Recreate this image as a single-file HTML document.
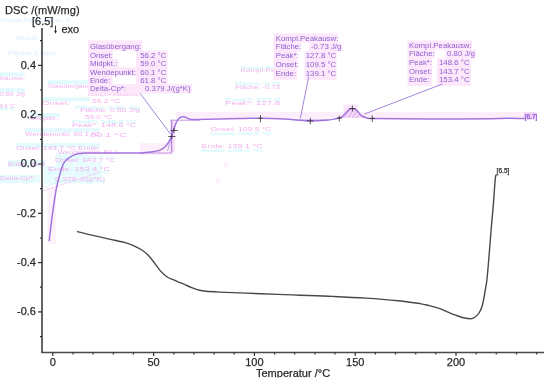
<!DOCTYPE html>
<html><head><meta charset="utf-8">
<style>
html,body{margin:0;padding:0;background:#fff;}
body{width:550px;height:383px;overflow:hidden;}
svg{display:block;will-change:transform;}
text{font-family:"Liberation Sans",sans-serif;}
.ax{font-size:11px;fill:#2a2a2a;stroke:#2a2a2a;stroke-width:0.25px;}
.an{font-size:8px;fill:#8f60d2;}
</style></head>
<body>
<svg width="550" height="383" viewBox="0 0 550 383">
<!-- ghost -->
<g fill="#e8fbfd">
<rect x="25" y="128" width="75" height="4"/>
<rect x="16" y="143" width="84" height="4.5"/>
<rect x="8" y="160" width="37" height="7"/>
<rect x="0" y="175" width="40" height="8"/>
<rect x="56" y="153" width="32" height="30"/>
<rect x="44" y="166" width="14" height="18"/>
<rect x="88" y="162" width="14" height="20"/>
<rect x="30" y="113" width="30" height="4"/>
<rect x="42" y="97" width="48" height="3.5"/>
<rect x="0" y="72" width="25" height="4"/>
<rect x="0" y="88" width="25" height="4"/>
<rect x="48" y="80" width="44" height="3.5"/>
</g>
<g font-size="8" style="font-family:'Liberation Sans',sans-serif">
<text transform="translate(0.0 75.6) scale(1 0.55)" textLength="25.0" lengthAdjust="spacingAndGlyphs" fill="#dff9fd" stroke="#dff9fd" stroke-width="1.0">kausw.</text>
<text transform="translate(0.0 79.9) scale(1 0.6)" textLength="25.0" lengthAdjust="spacingAndGlyphs" fill="#f3b2ee">kausw.</text>
<text transform="translate(48.0 83.6) scale(1 0.55)" textLength="44.0" lengthAdjust="spacingAndGlyphs" fill="#dff9fd" stroke="#dff9fd" stroke-width="1.0">Glasübergang:</text>
<text transform="translate(48.0 87.9) scale(1 0.6)" textLength="44.0" lengthAdjust="spacingAndGlyphs" fill="#f3b2ee">Glasübergang:</text>
<text transform="translate(0.0 91.6) scale(1 0.55)" textLength="25.0" lengthAdjust="spacingAndGlyphs" fill="#dff9fd" stroke="#dff9fd" stroke-width="1.0">0.80 J/g</text>
<text transform="translate(0.0 95.7) scale(1 0.6)" textLength="25.0" lengthAdjust="spacingAndGlyphs" fill="#f3b2ee">0.80 J/g</text>
<text transform="translate(88.0 96.1) scale(1 0.6)" textLength="52.0" lengthAdjust="spacingAndGlyphs" fill="#f3b2ee">Kompl.Peakausw:</text>
<text transform="translate(42.0 100.8) scale(1 0.55)" textLength="48.0" lengthAdjust="spacingAndGlyphs" fill="#dff9fd" stroke="#dff9fd" stroke-width="1.0">Onset:       </text>
<text transform="translate(42.0 104.7) scale(1 0.6)" textLength="28.0" lengthAdjust="spacingAndGlyphs" fill="#f3b2ee">Onset:</text>
<text transform="translate(92.0 103.3) scale(1 0.6)" textLength="28.0" lengthAdjust="spacingAndGlyphs" fill="#f3b2ee">56.2 °C</text>
<text transform="translate(0.0 109.6) scale(1 0.55)" textLength="15.0" lengthAdjust="spacingAndGlyphs" fill="#dff9fd" stroke="#dff9fd" stroke-width="1.0">8.6 °C</text>
<text transform="translate(0.0 108.1) scale(1 0.6)" textLength="15.0" lengthAdjust="spacingAndGlyphs" fill="#f3b2ee">8.6 °C</text>
<text transform="translate(75.0 108.6) scale(1 0.55)" textLength="65.0" lengthAdjust="spacingAndGlyphs" fill="#dff9fd" stroke="#dff9fd" stroke-width="1.0">Fläche: 0.80 J/g</text>
<text transform="translate(80.0 111.9) scale(1 0.6)" textLength="60.0" lengthAdjust="spacingAndGlyphs" fill="#f3b2ee">Fläche:    0.80 J/g</text>
<text transform="translate(30.0 116.6) scale(1 0.55)" textLength="30.0" lengthAdjust="spacingAndGlyphs" fill="#dff9fd" stroke="#dff9fd" stroke-width="1.0">Midpkt.:</text>
<text transform="translate(30.0 119.9) scale(1 0.6)" textLength="30.0" lengthAdjust="spacingAndGlyphs" fill="#f3b2ee">Midpkt.:</text>
<text transform="translate(85.0 118.7) scale(1 0.6)" textLength="27.0" lengthAdjust="spacingAndGlyphs" fill="#f3b2ee">59.0 °C</text>
<text transform="translate(72.0 123.1) scale(1 0.55)" textLength="64.0" lengthAdjust="spacingAndGlyphs" fill="#dff9fd" stroke="#dff9fd" stroke-width="1.0">Peak*:    148.6 °C</text>
<text transform="translate(72.0 126.9) scale(1 0.6)" textLength="64.0" lengthAdjust="spacingAndGlyphs" fill="#f3b2ee">Peak*:    148.6 °C</text>
<text transform="translate(25.0 131.8) scale(1 0.55)" textLength="75.0" lengthAdjust="spacingAndGlyphs" fill="#dff9fd" stroke="#dff9fd" stroke-width="1.0">Wendepunkt:   60.1 °C</text>
<text transform="translate(25.0 136.3) scale(1 0.6)" textLength="75.0" lengthAdjust="spacingAndGlyphs" fill="#f3b2ee">Wendepunkt:   60.1 °C</text>
<text transform="translate(90.0 136.9) scale(1 0.6)" textLength="37.0" lengthAdjust="spacingAndGlyphs" fill="#f3b2ee">60.1 °C</text>
<text transform="translate(16.0 146.6) scale(1 0.55)" textLength="84.0" lengthAdjust="spacingAndGlyphs" fill="#dff9fd" stroke="#dff9fd" stroke-width="1.0">Onset:    143.7 °C   Ende:</text>
<text transform="translate(16.0 149.9) scale(1 0.6)" textLength="84.0" lengthAdjust="spacingAndGlyphs" fill="#f3b2ee">Onset:    143.7 °C   Ende:</text>
<text transform="translate(58.0 153.7) scale(1 0.6)" textLength="60.0" lengthAdjust="spacingAndGlyphs" fill="#f3b2ee">Wendepunkt: 60.1</text>
<text transform="translate(55.0 158.6) scale(1 0.55)" textLength="60.0" lengthAdjust="spacingAndGlyphs" fill="#dff9fd" stroke="#dff9fd" stroke-width="1.0">Onset:  143.7 °C</text>
<text transform="translate(55.0 161.7) scale(1 0.6)" textLength="60.0" lengthAdjust="spacingAndGlyphs" fill="#f3b2ee">Onset:  143.7 °C</text>
<text transform="translate(8.0 164.1) scale(1 0.55)" textLength="37.0" lengthAdjust="spacingAndGlyphs" fill="#dff9fd" stroke="#dff9fd" stroke-width="1.0">Ende: 61.8</text>
<text transform="translate(8.0 166.2) scale(1 0.6)" textLength="37.0" lengthAdjust="spacingAndGlyphs" fill="#f3b2ee">Ende: 61.8</text>
<text transform="translate(48.0 174.1) scale(1 0.55)" textLength="62.0" lengthAdjust="spacingAndGlyphs" fill="#dff9fd" stroke="#dff9fd" stroke-width="1.0">Ende:   153.4 °C</text>
<text transform="translate(48.0 170.5) scale(1 0.6)" textLength="62.0" lengthAdjust="spacingAndGlyphs" fill="#f3b2ee">Ende:   153.4 °C</text>
<text transform="translate(0.0 182.8) scale(1 0.55)" textLength="35.0" lengthAdjust="spacingAndGlyphs" fill="#dff9fd" stroke="#dff9fd" stroke-width="1.0">Delta-Cp*:</text>
<text transform="translate(0.0 179.5) scale(1 0.6)" textLength="35.0" lengthAdjust="spacingAndGlyphs" fill="#f3b2ee">Delta-Cp*:</text>
<text transform="translate(55.0 182.8) scale(1 0.55)" textLength="50.0" lengthAdjust="spacingAndGlyphs" fill="#dff9fd" stroke="#dff9fd" stroke-width="1.0">0.379 J/(g*K)</text>
<text transform="translate(55.0 180.5) scale(1 0.6)" textLength="50.0" lengthAdjust="spacingAndGlyphs" fill="#f3b2ee">0.379 J/(g*K)</text>
<text transform="translate(240.5 68.6) scale(1 0.55)" textLength="39.5" lengthAdjust="spacingAndGlyphs" fill="#dff9fd" stroke="#dff9fd" stroke-width="1.0">Kompl.Pea</text>
<text transform="translate(240.5 72.3) scale(1 0.6)" textLength="39.5" lengthAdjust="spacingAndGlyphs" fill="#f3b2ee">Kompl.Pea</text>
<text transform="translate(235.3 85.1) scale(1 0.55)" textLength="44.7" lengthAdjust="spacingAndGlyphs" fill="#dff9fd" stroke="#dff9fd" stroke-width="1.0">Fläche:  -0.73</text>
<text transform="translate(235.3 88.5) scale(1 0.6)" textLength="44.7" lengthAdjust="spacingAndGlyphs" fill="#f3b2ee">Fläche:  -0.73</text>
<text transform="translate(225.0 101.4) scale(1 0.55)" textLength="55.0" lengthAdjust="spacingAndGlyphs" fill="#dff9fd" stroke="#dff9fd" stroke-width="1.0">Peak*:   127.8</text>
<text transform="translate(225.0 104.7) scale(1 0.6)" textLength="55.0" lengthAdjust="spacingAndGlyphs" fill="#f3b2ee">Peak*:   127.8</text>
<text transform="translate(219.0 115.9) scale(1 0.6)" textLength="71.0" lengthAdjust="spacingAndGlyphs" fill="#f3b2ee">Ende:   139.1 °C</text>
<text transform="translate(210.4 135.1) scale(1 0.55)" textLength="61.1" lengthAdjust="spacingAndGlyphs" fill="#dff9fd" stroke="#dff9fd" stroke-width="1.0">Onset:   109.5 °C</text>
<text transform="translate(210.4 130.9) scale(1 0.6)" textLength="61.1" lengthAdjust="spacingAndGlyphs" fill="#f3b2ee">Onset:   109.5 °C</text>
<text transform="translate(201.6 151.6) scale(1 0.55)" textLength="61.1" lengthAdjust="spacingAndGlyphs" fill="#dff9fd" stroke="#dff9fd" stroke-width="1.0">Ende:   139.1 °C</text>
<text transform="translate(201.6 147.7) scale(1 0.6)" textLength="61.1" lengthAdjust="spacingAndGlyphs" fill="#f3b2ee">Ende:   139.1 °C</text>
<text x="224" y="167" fill="#f8d2f5">//</text>
<text x="216" y="183" fill="#f8d2f5">//</text>
<text transform="translate(0.0 22.0) scale(1 0.7)" textLength="71.0" lengthAdjust="spacingAndGlyphs" fill="#e8f3fe" stroke="#e8f3fe" stroke-width="0.4">Kompl.Peakausw.: K</text>
<text transform="translate(16.0 40.0) scale(1 0.7)" textLength="21.0" lengthAdjust="spacingAndGlyphs" fill="#e8f3fe" stroke="#e8f3fe" stroke-width="0.4">Kb.L2l</text>
<text transform="translate(8.0 55.0) scale(1 0.7)" textLength="47.0" lengthAdjust="spacingAndGlyphs" fill="#e8f3fe" stroke="#e8f3fe" stroke-width="0.4">Fläche  1.ston</text>
</g>
<rect x="47.5" y="188" width="8.5" height="56" fill="#fdf1fc"/>
<path d="M42.5 191L100 172" stroke="#f7c6f2" stroke-width="0.8"/>
<path d="M45 187L64 180" stroke="#cdf2fa" stroke-width="0.8"/>
<!-- annotation backgrounds -->
<g fill="#fce8fa">
 <rect x="88" y="40.3" width="54.4" height="10.2"/>
 <rect x="88" y="50.5" width="24.5" height="8.4"/>
 <rect x="88" y="58.9" width="30.5" height="8.4"/>
 <rect x="88" y="67.3" width="48" height="8.4"/>
 <rect x="88" y="75.7" width="24.5" height="8.4"/>
 <rect x="136" y="50.5" width="31.5" height="33.6"/>
 <rect x="88" y="84.1" width="104" height="9.5"/>
</g>
<!-- axes -->
<g stroke="#4a4a4a" stroke-width="1.7" fill="none">
 <path d="M42 28 V352.5 H544"/>
</g>
<g stroke="#333" stroke-width="1.2">
 <path d="M38 65.4H42 M38 114.7H42 M38 164H42 M38 213.3H42 M38 262.6H42 M38 311.9H42"/>
 <path d="M40 40.7H42 M40 90H42 M40 139.3H42 M40 188.6H42 M40 238H42 M40 287.2H42 M40 336.6H42"/>
 <path d="M52.8 352.5V356 M153.6 352.5V356 M254.4 352.5V356 M355.2 352.5V356 M456 352.5V356"/>
 <path d="M73 352.5V354.5 M93.1 352.5V354.5 M113.3 352.5V354.5 M133.4 352.5V354.5 M173.8 352.5V354.5 M193.9 352.5V354.5 M214.1 352.5V354.5 M234.2 352.5V354.5 M274.6 352.5V354.5 M294.7 352.5V354.5 M314.9 352.5V354.5 M335 352.5V354.5 M375.4 352.5V354.5 M395.5 352.5V354.5 M415.7 352.5V354.5 M435.8 352.5V354.5 M476.2 352.5V354.5 M496.3 352.5V354.5 M516.5 352.5V354.5 M536.6 352.5V354.5"/>
</g>
<!-- axis labels -->
<g class="ax">
 <text x="5" y="13.9">DSC /(mW/mg)</text>
 <text x="32" y="24.6">[6.5]</text>
 <text x="61.5" y="32.5">exo</text>
 <g text-anchor="end">
  <text x="36" y="68.8">0.4</text>
  <text x="36" y="118.1">0.2</text>
  <text x="36" y="167.4">0.0</text>
  <text x="36" y="216.7">-0.2</text>
  <text x="36" y="266">-0.4</text>
  <text x="36" y="315.3">-0.6</text>
 </g>
 <g text-anchor="middle">
  <text x="52.8" y="365.6">0</text>
  <text x="153.6" y="365.6">50</text>
  <text x="254.4" y="365.6">100</text>
  <text x="355.2" y="365.6">150</text>
  <text x="456" y="365.6">200</text>
 </g>
 <text x="256" y="376.9">Temperatur /°C</text>
</g>
<!-- exo arrow -->
<path d="M55.5 25.5V31.5" stroke="#2a2a2a" stroke-width="0.9"/>
<path d="M54.1 30.8H56.9L55.5 33.8Z" fill="#2a2a2a"/>
<!-- black curve -->
<path fill="none" stroke="#484848" stroke-width="1.4" d="M77.1 231.5 C79.5 232.1 86.6 233.9 91.8 235.1 C97.0 236.3 103.7 237.9 108.2 238.9 C112.7 239.9 116.2 240.6 119.0 241.2 C121.8 241.8 122.9 242.0 125.0 242.6 C127.1 243.2 129.3 243.9 131.5 244.8 C133.7 245.7 136.0 246.8 138.0 247.8 C140.0 248.8 141.6 249.7 143.3 251.0 C145.1 252.3 147.0 254.1 148.5 255.6 C150.0 257.1 151.1 258.6 152.4 260.2 C153.7 261.8 155.0 263.7 156.3 265.4 C157.6 267.1 158.9 269.1 160.2 270.6 C161.5 272.1 162.8 273.4 164.1 274.5 C165.4 275.6 166.5 276.6 168.0 277.5 C169.5 278.4 171.2 278.8 173.2 279.7 C175.2 280.6 177.8 281.8 179.8 282.6 C181.8 283.4 183.1 283.9 185.0 284.7 C186.9 285.5 188.9 286.6 191.3 287.5 C193.7 288.4 197.1 289.7 199.5 290.3 C201.9 290.9 202.3 291.0 205.7 291.3 C209.1 291.6 213.2 291.8 219.8 292.1 C226.4 292.4 235.8 292.7 245.5 293.1 C255.2 293.5 269.1 294.0 278.2 294.4 C287.3 294.8 290.9 295.0 300.0 295.3 C309.1 295.6 321.8 295.9 332.7 296.4 C343.6 296.9 354.6 297.4 365.5 298.1 C376.4 298.8 389.1 299.8 398.2 300.7 C407.3 301.6 414.9 302.8 420.0 303.6 C425.1 304.4 425.8 304.8 428.7 305.5 C431.6 306.2 434.6 306.9 437.5 307.9 C440.4 308.9 443.3 310.1 446.2 311.3 C449.1 312.5 452.2 313.9 454.9 314.9 C457.6 315.9 459.8 316.9 462.2 317.5 C464.6 318.1 467.6 318.6 469.5 318.7 C471.4 318.8 472.5 318.4 473.8 317.8 C475.1 317.2 476.4 316.1 477.5 314.9 C478.6 313.7 479.6 312.2 480.4 310.5 C481.2 308.8 481.9 306.9 482.5 304.7 C483.1 302.5 483.5 300.2 484.0 297.5 C484.5 294.8 485.0 291.6 485.5 288.7 C486.0 285.8 486.3 284.9 486.9 280.0 C487.4 275.1 488.1 267.7 488.8 259.0 C489.5 250.3 490.5 237.1 491.3 227.7 C492.1 218.3 492.9 210.4 493.5 202.6 C494.1 194.8 494.7 185.2 495.1 180.7 C495.5 176.2 495.5 176.5 495.8 175.5 C496.1 174.5 496.6 174.8 496.8 174.6"/>
<text x="496.6" y="173" style="font-size:6.6px;fill:#333;stroke:#333;stroke-width:0.25">[6.5]</text>
<!-- pink band -->
<rect x="176" y="111.8" width="349" height="6" fill="#fdeefb"/>
<!-- glass transition construction -->
<rect x="140" y="143" width="32.7" height="12" fill="#fdf0fb"/>
<rect x="170" y="120.2" width="5.3" height="32.4" fill="#f8e2f8"/>
<g stroke="#b080e0" stroke-width="0.8" fill="none">
 <path d="M171.7 120.5V152.5" stroke="#9b72d8" stroke-width="1"/>
 <path d="M170 120.2H200"/>
 <path d="M140 153H172"/>
 <path d="M167.6 150.8L174.6 125.5"/>
</g>
<!-- negative peak fill -->
<rect x="343.5" y="104.5" width="14.5" height="7.5" fill="#fce6fa"/>
<path d="M293 118.9 L296 120 L310 120.9 L326 120.2 L335 118.9 Z" fill="#dcc8f2"/>
<!-- positive peak hatch -->
<path d="M341.9 117.6 L345.5 113.3 L349.7 109.2 L352.4 108.5 L356.5 110.1 L359.3 113.3 L362 116 L365.6 117.6 L368.4 118.3 Z" fill="#f4d8f6"/>
<g stroke="#c89ae8" stroke-width="0.7">
 <path d="M344 118L349 110.5 M348 118L353.5 109.5 M352 118L357 111 M356 118L360 114"/>
</g>
<!-- purple DSC curve -->
<path fill="none" stroke="#a474de" stroke-width="1.5" d="M49.1 241.2 C49.7 236.3 51.7 219.6 52.8 211.6 C53.9 203.6 54.7 198.1 55.5 193.3 C56.3 188.5 56.9 186.1 57.6 183.0 C58.3 179.9 59.1 177.2 59.7 175.0 C60.3 172.8 60.7 171.1 61.2 169.5 C61.7 167.9 62.3 166.5 62.8 165.3 C63.3 164.1 63.9 163.0 64.4 162.2 C64.9 161.3 65.4 160.8 66.0 160.2 C66.6 159.6 67.2 159.1 68.0 158.6 C68.8 158.1 69.6 157.4 70.5 156.9 C71.4 156.4 72.3 155.8 73.2 155.4 C74.1 155.0 75.0 154.7 76.0 154.4 C77.0 154.1 78.2 153.8 79.5 153.6 C80.8 153.4 80.6 153.2 84.0 153.1 C87.4 153.0 91.6 153.0 100.0 153.0 C108.4 153.0 127.0 153.1 134.5 153.0 C142.0 152.9 142.0 152.8 145.0 152.6 C148.0 152.4 150.6 152.1 152.7 151.8 C154.8 151.5 156.3 151.1 157.5 150.8 C158.7 150.5 158.8 150.8 160.0 150.2 C161.2 149.6 163.3 148.5 164.7 147.3 C166.1 146.1 167.2 144.3 168.2 142.8 C169.2 141.3 169.8 140.3 170.6 138.5 C171.4 136.7 172.2 134.0 172.9 132.0 C173.6 130.0 174.1 128.4 174.7 126.7 C175.3 125.0 175.8 123.4 176.5 122.0 C177.2 120.6 177.9 119.3 178.8 118.5 C179.7 117.7 180.7 117.1 181.8 116.9 C182.9 116.7 183.9 116.9 185.3 117.3 C186.7 117.7 188.4 118.8 190.0 119.1 C191.6 119.4 186.7 119.5 195.0 119.4 C203.3 119.3 229.2 118.8 240.0 118.6 C250.8 118.4 252.5 118.2 260.0 118.2 C267.5 118.2 279.0 118.6 285.0 118.9 C291.0 119.2 291.8 119.7 296.0 120.0 C300.2 120.3 305.0 120.9 310.0 120.9 C315.0 120.9 321.8 120.5 326.0 120.2 C330.2 119.9 332.8 119.3 335.0 118.9 C337.2 118.5 338.4 118.1 339.5 117.8 C340.6 117.5 340.9 118.0 341.9 117.2 C342.9 116.5 344.2 114.6 345.5 113.3 C346.8 112.0 348.6 110.0 349.7 109.2 C350.8 108.4 351.3 108.3 352.4 108.5 C353.5 108.7 355.4 109.3 356.5 110.1 C357.6 110.9 358.4 112.3 359.3 113.3 C360.2 114.3 360.9 115.3 362.0 116.0 C363.1 116.7 364.5 117.2 365.6 117.6 C366.7 118.0 367.3 118.1 368.4 118.3 C369.5 118.5 367.0 118.4 372.3 118.5 C377.6 118.6 387.1 118.7 400.0 118.8 C412.9 118.9 435.0 119.0 450.0 119.0 C465.0 119.0 481.7 118.9 490.0 118.8 C498.3 118.7 494.2 118.5 500.0 118.4 C505.8 118.3 520.8 118.4 525.0 118.4"/>
<path d="M297 118.6H334" stroke="#f4ecfc" stroke-width="0.7" stroke-dasharray="2.5 1.5"/>
<!-- crosshairs -->
<g stroke="#2a2a2a" stroke-width="0.75">
 <path d="M170.4 130.5H177.9 M174 128V133"/>
 <path d="M168.2 136.5H175.5 M171.8 134V139"/>
 <path d="M260.5 115V122.3 M258.5 118.3H262.5"/>
 <path d="M310.3 117.8V124.4 M307 120.9H313.5"/>
 <path d="M339.3 115.6V121.5 M336.9 118H341.9"/>
 <path d="M352.4 105.5V111.5 M349.2 108.5H355.6"/>
 <path d="M372.3 115.3V122 M369.5 118.5H375"/>
</g>
<!-- [6.7] label -->
<rect x="524.3" y="112.3" width="12.2" height="7.4" fill="#ecd0f6"/>
<text x="524.6" y="118.6" style="font-size:6.6px;fill:#8a50d6;stroke:#8a50d6;stroke-width:0.2">[6.7]</text>
<!-- annotation text -->
<g class="an">
 <text transform="translate(89.9 49.3) scale(0.98 1)">Glasübergang:</text>
 <text transform="translate(89.9 57.7) scale(0.98 1)">Onset:</text><text transform="translate(140.2 57.7) scale(0.98 1)">56.2 °C</text>
 <text transform="translate(89.9 66.1) scale(0.98 1)">Midpkt.:</text><text transform="translate(140.2 66.1) scale(0.98 1)">59.0 °C</text>
 <text transform="translate(89.9 74.5) scale(0.98 1)">Wendepunkt:</text><text transform="translate(140.2 74.5) scale(0.98 1)">60.1 °C</text>
 <text transform="translate(89.9 82.9) scale(0.98 1)">Ende:</text><text transform="translate(140.2 82.9) scale(0.98 1)">61.8 °C</text>
 <text transform="translate(89.9 91.3) scale(0.98 1)">Delta-Cp*:</text><text transform="translate(145.0 91.3) scale(0.98 1)">0.379 J/(g*K)</text>
</g>
<g fill="#fce8fa">
 <rect x="273.5" y="33.3" width="64.5" height="9.2"/>
 <rect x="273.5" y="42.5" width="27" height="8.5"/>
 <rect x="309" y="42.5" width="33.4" height="8.5"/>
 <rect x="273.5" y="51" width="23.5" height="28.8"/>
 <rect x="304.5" y="51" width="32.1" height="28.8"/>
 <rect x="407.5" y="40.4" width="64.5" height="9.2"/>
 <rect x="407.5" y="49.6" width="27.5" height="8.6"/>
 <rect x="445" y="49.6" width="31" height="8.6"/>
 <rect x="407.5" y="58.2" width="24.5" height="27.8"/>
 <rect x="437" y="58.2" width="34" height="27.8"/>
</g>
<!-- leader lines -->
<g stroke="#9a78d8" stroke-width="0.9" fill="none">
 <path d="M140 93.3L170.5 134"/>
 <path d="M308.7 77L300.3 118.4"/>
 <path d="M442.6 83.9L364.1 114.2"/>
</g>
<g class="an">
 <text transform="translate(275.7 40.7) scale(0.98 1)">Kompl.Peakausw:</text>
 <text transform="translate(275.7 49.4) scale(0.98 1)">Fläche:</text><text transform="translate(310.9 49.4) scale(0.98 1)">-0.73 J/g</text>
 <text transform="translate(275.7 58.1) scale(0.98 1)">Peak*:</text><text transform="translate(305.7 58.1) scale(0.98 1)">127.8 °C</text>
 <text transform="translate(275.7 66.8) scale(0.98 1)">Onset:</text><text transform="translate(305.7 66.8) scale(0.98 1)">109.5 °C</text>
 <text transform="translate(275.7 75.5) scale(0.98 1)">Ende:</text><text transform="translate(305.7 75.5) scale(0.98 1)">139.1 °C</text>
</g>
<g class="an">
 <text transform="translate(409.0 47.8) scale(0.98 1)">Kompl.Peakausw:</text>
 <text transform="translate(409.0 56.4) scale(0.98 1)">Fläche:</text><text transform="translate(447.0 56.4) scale(0.98 1)">0.80 J/g</text>
 <text transform="translate(409.0 65.0) scale(0.98 1)">Peak*:</text><text transform="translate(439.0 65.0) scale(0.98 1)">148.6 °C</text>
 <text transform="translate(409.0 73.6) scale(0.98 1)">Onset:</text><text transform="translate(439.0 73.6) scale(0.98 1)">143.7 °C</text>
 <text transform="translate(409.0 82.2) scale(0.98 1)">Ende:</text><text transform="translate(439.0 82.2) scale(0.98 1)">153.4 °C</text>
</g>
<rect x="0" y="377.6" width="550" height="6" fill="#fff"/>
</svg>
</body></html>
